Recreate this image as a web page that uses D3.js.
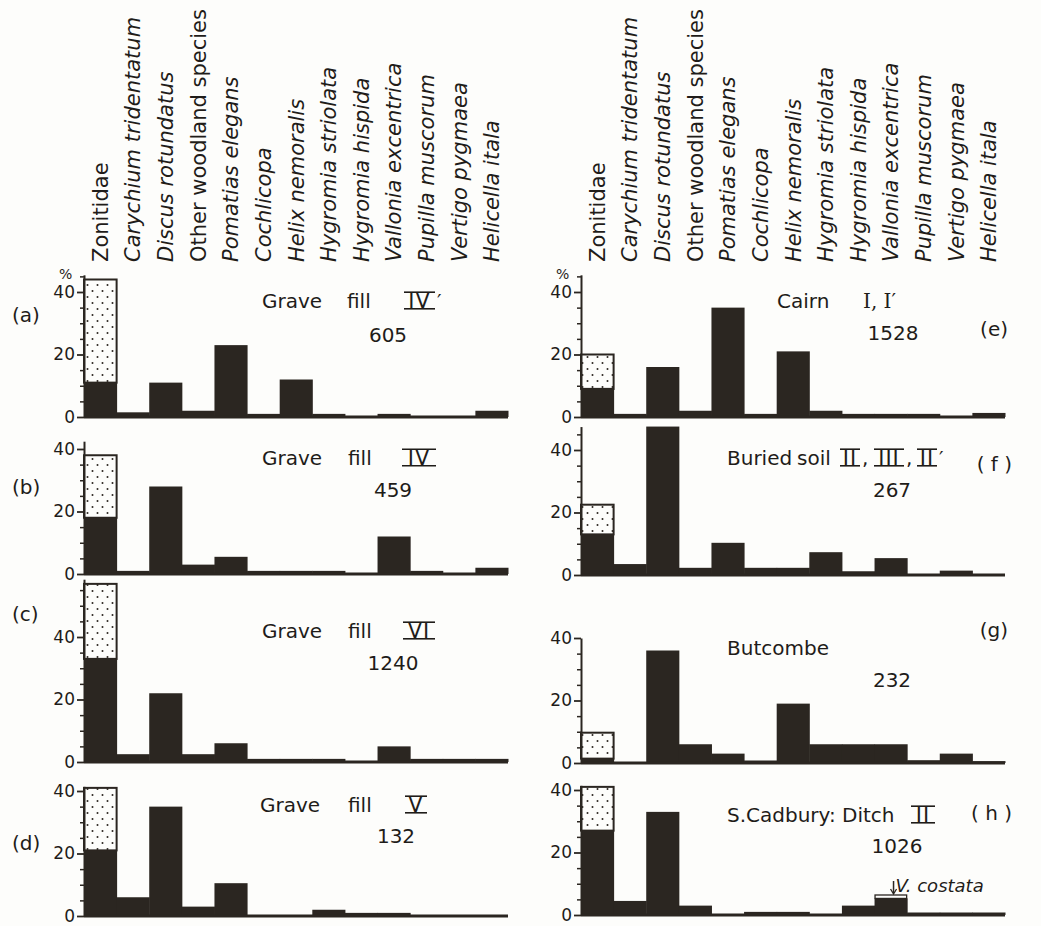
<!DOCTYPE html>
<html>
<head>
<meta charset="utf-8">
<script src="https://cdn.jsdelivr.net/npm/d3@7/dist/d3.min.js"></script>
<style>
  body { margin: 0; background: #fdfdfb; }
  text { font-family: "DejaVu Sans", sans-serif; fill: #1f1c19; }
  .cat { font-size: 21px; }
  .cat.it { font-style: italic; }
  .ttl { font-size: 20px; }
  .roman { font-size: 21px; }
  .serif { font-family: "DejaVu Serif", serif; }
  .tick text { font-size: 17px; font-family: "DejaVu Sans", sans-serif; }
</style>
</head>
<body>
<div id="figure"></div>
<script>
var svgWidth = 1041;
var svgHeight = 926;
var dark = "#2b2621";
var pxPerUnit = 3.125;

// species (x categories)
var categories = ["Zonitidae", "Carychium tridentatum", "Discus rotundatus",
  "Other woodland species", "Pomatias elegans", "Cochlicopa", "Helix nemoralis",
  "Hygromia striolata", "Hygromia hispida", "Vallonia excentrica",
  "Pupilla muscorum", "Vertigo pygmaea", "Helicella itala"];
var uprightCats = ["Zonitidae", "Other woodland species"];

// % values, first entry = dark (solid) part of Zonitidae
var valuesA = [11, 1.5, 11, 2, 23, 1, 12, 1, 0, 1, 0, 0, 2];
var valuesB = [18, 1, 28, 3, 5.5, 1, 1, 1, 0, 12, 1, 0, 2];
var valuesC = [33, 2.5, 22, 2.5, 6, 1, 1, 1, 0, 5, 1, 1, 1];
var valuesD = [21, 6, 35, 3, 10.5, 0, 0, 2, 1, 1, 0, 0, 0];
var valuesE = [9, 1, 16, 2, 35, 1, 21, 2, 1, 1, 1, 0, 1.3];
var valuesF = [13, 3.5, 47.5, 2.3, 10.3, 2.3, 2.3, 7.3, 1.2, 5.4, 0, 1.4, 0];
var valuesG = [1.4, 0, 36, 6, 3, 0.8, 19, 6, 6, 6, 0.9, 3, 0.6];
var valuesH = [27, 4.5, 33, 3, 0, 1, 1, 0, 3, 5.3, 0.8, 0.8, 0.8];

// total Zonitidae (solid + stippled)
var zonitidaeTotal = [44, 38, 57, 41, 20, 22.5, 9.7, 41];
var axisTop = [45.5, 42.5, 58.5, 41.5, 45.5, 47.5, 40, 41.5];
var sampleCounts = ["605", "459", "1240", "132", "1528", "267", "232", "1026"];
var panelLetters = ["(a)", "(b)", "(c)", "(d)", "(e)", "( f )", "(g)", "( h )"];
var majorTicks = [0, 20, 40];
var minorTicks = [5, 10, 15, 25, 30, 35, 45, 50, 55];
var costataExtra = 1.1; // V. costata on top of Vallonia in (h)

var panelValues = [valuesA, valuesB, valuesC, valuesD, valuesE, valuesF, valuesG, valuesH];

// layout of the eight panels
var layout = [
  {x0: 84, base: 417}, {x0: 84, base: 574}, {x0: 84, base: 762}, {x0: 84, base: 916},
  {x0: 581, base: 417}, {x0: 581, base: 575}, {x0: 581, base: 763}, {x0: 581, base: 915}
];
var plotWidth = 424;

// title pieces: text, x, roman numeral bar width (if any)
var titles = [
  {y: 308, parts: [["Grave", 262], ["fill", 347], ["IV", 404, 31], ["′", 437]]},
  {y: 465, parts: [["Grave", 262], ["fill", 348], ["IV", 402, 34]]},
  {y: 638, parts: [["Grave", 262], ["fill", 348], ["VI", 403, 32]]},
  {y: 812, parts: [["Grave", 260], ["fill", 348], ["V", 405, 22]]},
  {y: 308, parts: [["Cairn", 777], ["I, I′", 863, 0, "serif"]]},
  {y: 465, parts: [["Buried", 727], ["soil", 797], ["II", 840, 20], [",", 862], ["III", 874, 30],
                   [",", 906], ["II", 917, 20], ["′", 939]]},
  {y: 655, parts: [["Butcombe", 727]]},
  {y: 822, parts: [["S.Cadbury:", 727], ["Ditch", 842], ["II", 911, 24]]}
];
var countPos = [[388, 342], [393, 497], [393, 670], [396, 843],
                [893, 340], [892, 497], [892, 687], [897, 853]];
var letterPos = [[12, 322, "start"], [12, 494, "start"], [12, 621, "start"], [12, 850, "start"],
                 [1008, 336, "end"], [1012, 471, "end"], [1008, 637, "end"], [1012, 820, "end"]];

var svg = d3.select("#figure").append("svg")
  .attr("width", svgWidth)
  .attr("height", svgHeight)
  .style("background", "#fdfdfb");

var defs = svg.append("defs");
var pat = defs.append("pattern")
  .attr("id", "dots")
  .attr("width", 10).attr("height", 12)
  .attr("patternUnits", "userSpaceOnUse");
pat.append("rect").attr("width", 10).attr("height", 12).attr("fill", "#fdfdfb");
pat.append("circle").attr("cx", 2.5).attr("cy", 3).attr("r", 1).attr("fill", dark);
pat.append("circle").attr("cx", 7.5).attr("cy", 9).attr("r", 1).attr("fill", dark);

function drawPanel(i) {
  var lay = layout[i];
  var vals = panelValues[i];
  var top = axisTop[i];

  var x = d3.scaleBand().domain(categories).range([lay.x0, lay.x0 + plotWidth]).padding(0);
  var y = d3.scaleLinear().domain([0, top]).range([lay.base, lay.base - top * pxPerUnit]);

  var g = svg.append("g");

  // stippled (upper) part of Zonitidae
  g.append("rect")
    .attr("x", x(categories[0]))
    .attr("y", y(zonitidaeTotal[i]))
    .attr("width", x.bandwidth())
    .attr("height", y(vals[0]) - y(zonitidaeTotal[i]))
    .attr("fill", "url(#dots)")
    .attr("stroke", dark)
    .attr("stroke-width", 2);

  // solid bars
  var barData = vals.map(function(v, j) { return {cat: categories[j], v: v}; })
    .filter(function(d) { return d.v > 0; });
  g.selectAll("rect.bar")
    .data(barData)
    .enter()
    .append("rect")
    .classed("bar", true)
    .attr("x", d => x(d.cat))
    .attr("y", d => y(d.v))
    .attr("width", x.bandwidth() + 0.5)
    .attr("height", d => lay.base - y(d.v))
    .attr("fill", dark);

  // V. costata in (h)
  if (i === 7) {
    var vc = categories[9];
    var vTop = y(vals[9] + costataExtra);
    g.append("rect")
      .attr("x", x(vc) + 0.5)
      .attr("y", vTop)
      .attr("width", x.bandwidth() - 1)
      .attr("height", y(vals[9]) - vTop)
      .attr("fill", "#fdfdfb")
      .attr("stroke", dark)
      .attr("stroke-width", 1.3);
    var ax = x(vc) + 19;
    g.append("line")
      .attr("x1", ax).attr("x2", ax)
      .attr("y1", vTop - 14).attr("y2", vTop - 2)
      .attr("stroke", dark).attr("stroke-width", 1.5);
    g.append("path")
      .attr("d", "M" + (ax - 3) + "," + (vTop - 6) + "L" + ax + "," + (vTop - 1) +
                 "L" + (ax + 3) + "," + (vTop - 6))
      .attr("fill", "none").attr("stroke", dark).attr("stroke-width", 1.3);
    g.append("text")
      .attr("x", ax + 2)
      .attr("y", vTop - 3)
      .style("font-style", "italic")
      .style("font-size", "18px")
      .text("V. costata");
  }

  // baseline
  g.append("line")
    .attr("x1", lay.x0).attr("x2", lay.x0 + plotWidth)
    .attr("y1", lay.base).attr("y2", lay.base)
    .attr("stroke", dark).attr("stroke-width", 3);

  // axes
  var minorAxis = d3.axisLeft(y)
    .tickValues(minorTicks.filter(t => t < top))
    .tickSize(4).tickSizeOuter(0).tickFormat("");
  var minorG = g.append("g").attr("transform", `translate(${lay.x0}, 0)`).call(minorAxis);
  minorG.select(".domain").remove();
  minorG.selectAll(".tick line").attr("stroke", dark).attr("stroke-width", 1.5);

  var majorAxis = d3.axisLeft(y)
    .tickValues(majorTicks.filter(t => t <= top))
    .tickSize(7).tickSizeOuter(0).tickPadding(2);
  var majorG = g.append("g").attr("transform", `translate(${lay.x0}, 0)`).call(majorAxis);
  majorG.select(".domain").attr("stroke", dark).attr("stroke-width", 2);
  majorG.selectAll(".tick line").attr("stroke", dark).attr("stroke-width", 1.8);
  majorG.selectAll(".tick text").attr("fill", "#1f1c19").attr("dy", "0.3em");

  // % sign and species labels for the top row
  if (i === 0 || i === 4) {
    g.append("text")
      .attr("x", lay.x0 - 25)
      .attr("y", y(top) + 4)
      .style("font-size", "14px")
      .text("%");

    g.selectAll("text.cat")
      .data(categories)
      .enter()
      .append("text")
      .attr("class", d => uprightCats.indexOf(d) >= 0 ? "cat" : "cat it")
      .attr("transform", d => `translate(${x(d) + x.bandwidth() / 2}, 262) rotate(-90)`)
      .attr("dy", "0.36em")
      .text(d => d);
  }

  // title
  titles[i].parts.forEach(function(p) {
    var t = g.append("text")
      .attr("class", "ttl" + (p[3] ? " serif" : ""))
      .attr("x", p[1])
      .attr("y", titles[i].y)
      .text(p[0]);
    if (p[2]) {
      // roman numeral: letters centred between a bar above and a bar below
      t.attr("class", "ttl roman")
        .attr("x", p[1] + p[2] / 2)
        .attr("text-anchor", "middle")
        .attr("letter-spacing", "1px");
      [titles[i].y - 15.8, titles[i].y + 0.8].forEach(function(by) {
        g.append("line")
          .attr("x1", p[1]).attr("x2", p[1] + p[2])
          .attr("y1", by).attr("y2", by)
          .attr("stroke", "#1f1c19").attr("stroke-width", 1.6);
      });
    }
  });

  g.append("text")
    .attr("class", "ttl")
    .attr("x", countPos[i][0])
    .attr("y", countPos[i][1])
    .attr("text-anchor", "middle")
    .text(sampleCounts[i]);

  g.append("text")
    .attr("class", "ttl")
    .attr("x", letterPos[i][0])
    .attr("y", letterPos[i][1])
    .attr("text-anchor", letterPos[i][2])
    .text(panelLetters[i]);
}

for (var i = 0; i < panelValues.length; i++) {
  drawPanel(i);
}
</script>
</body>
</html>
